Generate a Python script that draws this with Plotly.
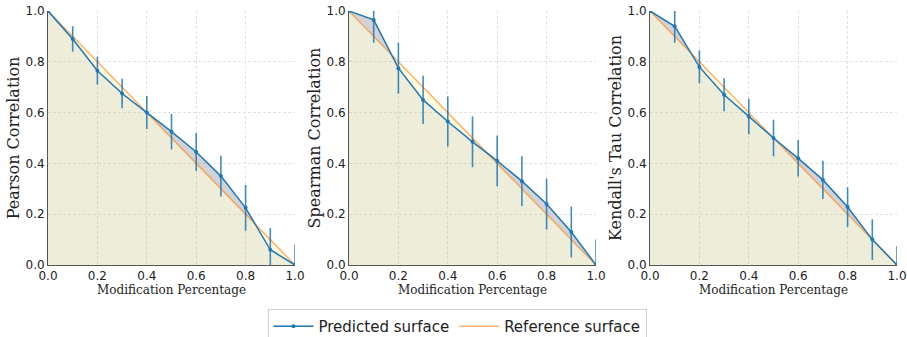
import plotly.graph_objects as go

x_vals = [0.0, 0.1, 0.2, 0.3, 0.4, 0.5, 0.6, 0.7, 0.8, 0.9, 1.0]
reference = [1.0, 0.9, 0.8, 0.7, 0.6, 0.5, 0.4, 0.3, 0.2, 0.1, 0.0]

pearson = [1.0, 0.89, 0.765, 0.675, 0.60, 0.525, 0.445, 0.35, 0.225, 0.06, 0.0]
pearson_err = [0.0, 0.05, 0.055, 0.058, 0.065, 0.07, 0.075, 0.08, 0.09, 0.085, 0.08]

spearman = [1.0, 0.965, 0.775, 0.65, 0.565, 0.485, 0.41, 0.33, 0.24, 0.13, 0.0]
spearman_err = [0.0, 0.09, 0.1, 0.095, 0.098, 0.1, 0.1, 0.098, 0.1, 0.1, 0.1]

kendall = [1.0, 0.94, 0.78, 0.67, 0.585, 0.50, 0.42, 0.335, 0.228, 0.10, 0.0]
kendall_err = [0.0, 0.065, 0.065, 0.065, 0.07, 0.072, 0.072, 0.075, 0.078, 0.08, 0.075]

y_titles = ["Pearson Correlation", "Spearman Correlation", "Kendall's Tau Correlation"]
x_title = "Modification Percentage"
legend_names = ["Predicted surface", "Reference surface"]

series = [(pearson, pearson_err), (spearman, spearman_err), (kendall, kendall_err)]

W, H = 907, 337
panel_left_px = [48, 349, 650]
panel_w_px = 247
top_px, bottom_px = 11, 265
legend_top_px = 309

BLUE = "#1f77b4"
ORANGE = "rgba(255,127,14,0.6)"
BEIGE = "rgba(189,183,107,0.25)"
GRAY = "rgba(120,120,135,0.33)"
PALE = "rgba(250,245,170,0.35)"


def with_crossings(x, p, r):
    xs, ps, rs = [], [], []
    for i in range(len(x)):
        xs.append(x[i]); ps.append(p[i]); rs.append(r[i])
        if i < len(x) - 1:
            d0 = p[i] - r[i]
            d1 = p[i + 1] - r[i + 1]
            if d0 * d1 < 0:
                t = d0 / (d0 - d1)
                xc = x[i] + t * (x[i + 1] - x[i])
                yc = r[i] + t * (r[i + 1] - r[i])
                xs.append(xc); ps.append(yc); rs.append(yc)
    lo = [min(a, b) for a, b in zip(ps, rs)]
    hi = [max(a, b) for a, b in zip(ps, rs)]
    return xs, rs, lo, hi


fig = go.Figure()
layout_axes = {}

for k, (pred, err) in enumerate(series):
    xa = "x" if k == 0 else f"x{k+1}"
    ya = "y" if k == 0 else f"y{k+1}"
    xs, rs, lo, hi = with_crossings(x_vals, pred, reference)
    common = dict(xaxis=xa, yaxis=ya, hoverinfo="skip", showlegend=False)
    fig.add_trace(go.Scatter(x=xs, y=lo, mode="lines", line=dict(width=0),
                             fill="tozeroy", fillcolor=BEIGE, **common))
    fig.add_trace(go.Scatter(x=xs, y=rs, mode="lines", line=dict(width=0), **common))
    fig.add_trace(go.Scatter(x=xs, y=hi, mode="lines", line=dict(width=0),
                             fill="tonexty", fillcolor=GRAY, **common))
    fig.add_trace(go.Scatter(x=xs, y=lo, mode="lines", line=dict(width=0), **common))
    fig.add_trace(go.Scatter(x=xs, y=rs, mode="lines", line=dict(width=0),
                             fill="tonexty", fillcolor=PALE, **common))
    fig.add_trace(go.Scatter(x=x_vals, y=reference, mode="lines",
                             line=dict(color=ORANGE, width=1.5),
                             name=legend_names[1], showlegend=(k == 0),
                             xaxis=xa, yaxis=ya))
    fig.add_trace(go.Scatter(x=x_vals, y=pred, mode="lines+markers",
                             line=dict(color=BLUE, width=1.5),
                             marker=dict(color=BLUE, size=4),
                             error_y=dict(type="data", array=err, color="rgba(31,119,180,0.85)",
                                          thickness=1.6, width=0),
                             name=legend_names[0], showlegend=(k == 0),
                             xaxis=xa, yaxis=ya))

    x0 = panel_left_px[k] / W
    x1 = (panel_left_px[k] + panel_w_px) / W
    axis_common = dict(
        range=[0, 1], tickvals=[0, 0.2, 0.4, 0.6, 0.8, 1.0], tickformat=".1f",
        showgrid=True, gridcolor="#e2e2e2", griddash="3px,2px", gridwidth=0.8,
        showline=True, linecolor="#555555", linewidth=1, mirror=False,
        zeroline=False, ticks="",
        tickfont=dict(family="DejaVu Sans", size=12, color="#222222"),
        automargin=False,
    )
    layout_axes["xaxis" if k == 0 else f"xaxis{k+1}"] = dict(
        domain=[x0, x1], anchor=ya,
        title=dict(text=x_title, font=dict(family="DejaVu Serif", size=12, color="#222222"),
                   standoff=0),
        **axis_common)
    layout_axes["yaxis" if k == 0 else f"yaxis{k+1}"] = dict(
        domain=[1 - bottom_px / H, 1 - top_px / H], anchor=xa,
        title=dict(text=y_titles[k], font=dict(family="DejaVu Serif", size=16, color="#222222"),
                   standoff=1),
        **axis_common)

fig.update_layout(
    width=W, height=H,
    margin=dict(l=0, r=0, t=0, b=0, autoexpand=False),
    plot_bgcolor="white", paper_bgcolor="white",
    showlegend=True,
    legend=dict(orientation="h", x=457 / W, xanchor="center",
                y=(H - legend_top_px) / H, yanchor="top",
                traceorder="reversed",
                font=dict(family="DejaVu Sans", size=15, color="#222222"),
                bordercolor="#d0d0d0", borderwidth=1, bgcolor="white",
                itemwidth=40),
    **layout_axes,
)

fig.write_html("out.html", config={"displayModeBar": False},
               post_script="document.body.style.margin='0px';")
